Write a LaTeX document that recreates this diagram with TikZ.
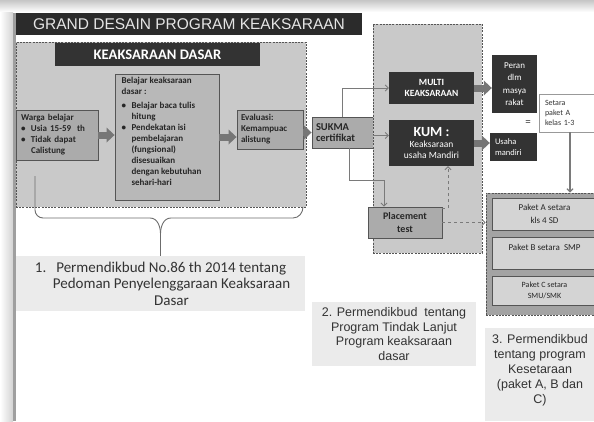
\documentclass[tikz,border=0pt]{standalone}
\usepackage{fontspec}
\setmainfont{Carlito}
\newfontfamily\arialfont{Liberation Sans}
\usetikzlibrary{arrows.meta}
\definecolor{barblack}{HTML}{2B2B2B}
\definecolor{darkfill}{HTML}{333333}
\definecolor{panelgray}{HTML}{C9C9C9}
\definecolor{boxgray}{HTML}{ABABAB}
\definecolor{edgegray}{HTML}{555555}
\definecolor{paketgray}{HTML}{A3A3A3}
\definecolor{paketlight}{HTML}{D4D4D4}
\definecolor{notegray}{HTML}{EBEBEB}
\definecolor{arrowgray}{HTML}{767676}
\definecolor{linegray}{HTML}{7A7A7A}
\newcommand{\bul}{\makebox[10pt][l]{\textbullet}}
\newcommand{\ind}{\hspace*{10pt}}

\begin{document}
\begin{tikzpicture}[x=1pt,y=-1pt,>=Latex]
  \tikzset{
    panel/.style={draw=edgegray,fill=panelgray,line width=0.9pt,dash pattern=on 2pt off 1.2pt},
    greybox/.style={draw=edgegray,fill=boxgray,line width=0.9pt,text=black!85,align=center,font=\bfseries\fontsize{9}{11}\selectfont},
    darkbox/.style={fill=darkfill,text=white,align=center,inner sep=2pt},
    paketbox/.style={draw=edgegray,fill=paketlight,line width=0.9pt,align=center,minimum width=105pt,text=black!85},
    notebox/.style={fill=notegray,text=black!80,align=center,inner sep=0pt},
    fatarrow/.style={draw=arrowgray,solid,line width=7pt,-{Triangle[line width=0pt,width=15pt 0 0,length=8pt 0 0]}},
    thinarrow/.style={draw=linegray,line width=0.8pt,-{Straight Barb[length=3pt,width=6pt]}},
  }
  \useasboundingbox (0,0) rectangle (594,421);
  \clip (0,0) rectangle (594,421);
  % slide edge
  \shade[top color=gray!45,bottom color=white] (0,0) rectangle (594,12);
  \shade[left color=white,right color=gray!35] (0,12) rectangle (13,421);
  \fill[gray!75] (13,13) rectangle (16,421);

  \node[fill=barblack,text=white!90!black,font=\arialfont\fontsize{15.5}{17}\selectfont,minimum width=346pt,minimum height=22pt,inner sep=0pt] (title) at (189,24) {GRAND DESAIN PROGRAM KEAKSARAAN};

  % keaksaraan dasar
  \node[panel,minimum width=290pt,minimum height=165pt] (dasar) at (161,124.5) {};
  \node[darkbox,font=\bfseries\fontsize{14.6}{16}\selectfont,minimum width=205pt,minimum height=23pt] (dasarhead) at (157.5,54.5) {KEAKSARAAN DASAR};
  \node[greybox,minimum width=82pt,minimum height=50pt,text width=72pt,inner xsep=5pt,align=left] (warga) at (57,135)
    {Warga belajar\\\bul Usia 15-59~ th\\\bul Tidak dapat\\\ind Calistung};
  \node[greybox,fill=boxgray!85!white,inner sep=0pt] (belajar) at (167,137)
    {\parbox[c][126pt][t]{104pt}{\raggedright\leftskip=6.5pt\vspace*{3pt}%
      Belajar keaksaraan\\
      dasar :\\[3pt]
      \bul Belajar baca tulis\\
      \ind hitung\\
      \bul Pendekatan isi\\
      \ind pembelajaran\\
      \ind (fungsional)\\
      \ind disesuaikan\\
      \ind dengan kebutuhan\\
      \ind sehari-hari}};
  \node[greybox,minimum width=66pt,minimum height=39pt,text width=58pt,inner xsep=4pt,align=left] (evaluasi) at (270,129.5) {Evaluasi:\\Kemampuac\\alistung};
  \node[greybox,font=\bfseries\fontsize{10.5}{11.6}\selectfont,minimum width=61pt,minimum height=31pt,text width=53pt,inner xsep=4pt,align=left] (sukma) at (342.5,132.5) {SUKMA\\certifikat};

  \draw[fatarrow] (warga.east) -- (warga.east -| belajar.west);
  \draw[fatarrow] (belajar.east) -- (belajar.east -| evaluasi.west);
  \draw[fatarrow] (evaluasi.east |- sukma) -- (sukma.west);

  % program tindak lanjut
  \node[panel,minimum width=109pt,minimum height=229pt] (lanjut) at (427.5,138.5) {};
  \node[darkbox,font=\bfseries\fontsize{9.5}{11.5}\selectfont,minimum width=85pt,minimum height=32pt] (multi) at (431.5,88) {MULTI\\KEAKSARAAN};
  \node[darkbox,font=\fontsize{9.5}{11}\selectfont,minimum width=85pt,minimum height=46pt] (kum) at (431.5,143)
    {{\bfseries\fontsize{14}{15}\selectfont KUM :}\\Keaksaraan\\usaha Mandiri};
  \node[greybox,font=\bfseries\fontsize{10}{12.5}\selectfont,minimum width=74pt,minimum height=31pt] (placement) at (405,222.5) {Placement\\test};
  \coordinate (kink) at (384,180);

  \draw[thinarrow] (sukma.north) |- (multi.west);
  \draw[thinarrow] ([yshift=-3pt]sukma.east) -- ([yshift=-3pt]sukma.east -| kum.west);
  \draw[thinarrow] ([xshift=6.5pt]sukma.south) |- (kink) -- (kink |- placement.north);
  \draw[thinarrow,dashed] ([yshift=-2pt]placement.north east) -| ([xshift=16.5pt]kum.south);

  % peran dan usaha
  \node[darkbox,font=\fontsize{9}{12.5}\selectfont,minimum width=45pt,minimum height=58pt] (peran) at (514.5,84) {Peran\\dlm\\masya\\rakat};
  \node[darkbox,font=\fontsize{8.5}{11.5}\selectfont,minimum width=47pt,minimum height=28pt,text width=37pt,inner xsep=5pt,align=left] (usaha) at (513.5,147) {Usaha\\mandiri};
  \node[text=darkfill,font=\fontsize{11}{11}\selectfont] (sama) at (528,123) {=};
  \node[draw=gray!80,fill=white,line width=0.9pt,font=\fontsize{8}{10.3}\selectfont,minimum width=62pt,minimum height=38pt,text width=50pt,inner xsep=6pt,align=left,text=black!80] (setara) at (570,113) {Setara\\paket A\\kelas 1-3};
  \draw[fatarrow] (multi.east) -- (multi.east -| peran.west);
  \draw[fatarrow] (kum.east) -- (kum.east -| usaha.west);

  % kesetaraan
  \node[panel,fill=paketgray,minimum width=114pt,minimum height=122pt] (kesetaraan) at (543,254) {};
  \node[paketbox,font=\fontsize{9}{12.5}\selectfont,minimum height=32pt] (paketA) at (544.5,214) {Paket A setara\\kls 4 SD};
  \node[paketbox,font=\fontsize{9}{11}\selectfont,minimum height=32pt] (paketB) at (544.5,253) {Paket B setara\ \ SMP\\\mbox{}};
  \node[paketbox,font=\fontsize{8}{11}\selectfont,minimum height=29pt] (paketC) at (544.5,290.5) {Paket C setara\\SMU/SMK};
  \draw[thinarrow,line width=1.2pt] (setara.south) -- (setara.south |- kesetaraan.north);
  \draw[thinarrow,dashed] (placement.east) -- (placement.east -| kesetaraan.west);

  % dasar hukum
  \node[notebox,minimum width=289pt,minimum height=55pt,font=\fontsize{15}{16.5}\selectfont] (ref1) at (160.5,283.5)
    {1.\hspace{10pt}Permendikbud No.86 th 2014 tentang\\\hspace*{22pt}Pedoman Penyelenggaraan Keaksaraan\\\hspace*{22pt}Dasar};
  \node[notebox,minimum width=164pt,minimum height=64pt,font=\arialfont\fontsize{12.5}{14.8}\selectfont] (ref2) at (394,334)
    {2. Permendikbud~ tentang\\Program Tindak Lanjut\\Program keaksaraan\\dasar};
  \node[notebox,font=\arialfont\fontsize{12.5}{15}\selectfont] (ref3) at (540,374.5)
    {\parbox[c][93pt][t]{110pt}{\centering\vspace*{6pt}3. Permendikbud\\tentang program\\Kesetaraan\\(paket A, B dan\\C)}};

  % kurung kurawal
  \draw[gray!85!black,line width=0.9pt] (35,176) -- (35,210) to[out=-90,in=180] (43,218) -- (150,218) to[out=0,in=90] (ref1.north |- 0,234) -- (ref1.north);
  \draw[gray!85!black,line width=0.9pt] (ref1.north |- 0,234) to[out=90,in=180] (171,218) -- (293,218) to[out=0,in=-90] (303,207);
\end{tikzpicture}
\end{document}
